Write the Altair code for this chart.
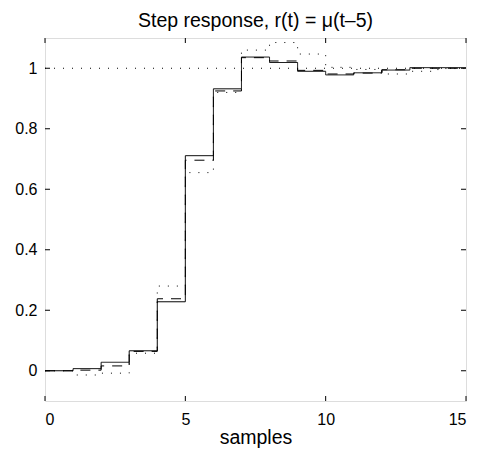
import altair as alt
import pandas as pd

# step values: value at index k holds on [k, k+1]
samples = list(range(16))
solid = [0, 0.007, 0.028, 0.066, 0.228, 0.711, 0.932, 1.037, 1.019, 0.990,
         0.978, 0.985, 0.994, 1.002, 1.002, 1.002]
dashed = [0, 0.002, 0.016, 0.064, 0.238, 0.696, 0.925, 1.035, 1.024, 0.993,
          0.981, 0.984, 0.995, 1.000, 1.000, 1.000]
dotted = [0, -0.014, -0.008, 0.058, 0.280, 0.655, 0.920, 1.060, 1.085, 1.047,
          1.003, 0.996, 0.981, 0.990, 0.999, 0.999]
reference_level = [1.0]
x_ticks = [0, 5, 10, 15]
y_ticks = [0, 0.2, 0.4, 0.6, 0.8, 1]

W, H = 421, 363
FONT = "Liberation Sans"

rows = []
for name, vals in [("dotted", dotted), ("dashed", dashed), ("solid", solid)]:
    for s, v in zip(samples, vals):
        rows.append({"samples": s, "value": v, "series": name})
df = pd.DataFrame(rows)

xs = alt.Scale(domain=[0, 15], nice=False, zero=False)
ys = alt.Scale(domain=[-0.1, 1.1], nice=False, zero=False)

lines = alt.Chart(df).mark_line(interpolate="step-after", color="black", strokeWidth=1).encode(
    x=alt.X("samples:Q", scale=xs,
            axis=alt.Axis(title="samples", values=x_ticks, ticks=False, domain=False, grid=False,
                          labelFontSize=16, labelFont=FONT, labelPadding=10, labelColor="black",
                          titleFontSize=19.5, titleFont=FONT, titleFontWeight="normal",
                          titleColor="black", titlePadding=1)),
    y=alt.Y("value:Q", scale=ys,
            axis=alt.Axis(title="", values=y_ticks, format="~g", ticks=False, domain=False, grid=False,
                          labelFontSize=16, labelFont=FONT, labelPadding=8, labelColor="black")),
    strokeDash=alt.StrokeDash("series:N",
                              scale=alt.Scale(domain=["solid", "dashed", "dotted"],
                                              range=[[1, 0], [10, 8], [1, 8]]),
                              legend=None),
    detail="series:N",
)

ref = alt.Chart(pd.DataFrame({"y": reference_level})).mark_rule(
    color="black", strokeWidth=1, strokeDash=[1, 8]
).encode(y=alt.Y("y:Q", scale=ys), x=alt.value(0), x2=alt.value(W))

xt = pd.DataFrame({"v": x_ticks})
yt = pd.DataFrame({"v": y_ticks})
tick_b = alt.Chart(xt).mark_rule(color="black", strokeWidth=1).encode(
    x=alt.X("v:Q", scale=xs), y=alt.value(H), y2=alt.value(H - 5))
tick_t = alt.Chart(xt).mark_rule(color="black", strokeWidth=1).encode(
    x=alt.X("v:Q", scale=xs), y=alt.value(0), y2=alt.value(5))
tick_l = alt.Chart(yt).mark_rule(color="black", strokeWidth=1).encode(
    y=alt.Y("v:Q", scale=ys), x=alt.value(0), x2=alt.value(5))
tick_r = alt.Chart(yt).mark_rule(color="black", strokeWidth=1).encode(
    y=alt.Y("v:Q", scale=ys), x=alt.value(W), x2=alt.value(W - 5))

chart = alt.layer(ref, lines, tick_b, tick_t, tick_l, tick_r).properties(
    width=W, height=H,
    title=alt.TitleParams("Step response, r(t) = \u03bc(t\u20135)", fontSize=19.5, font=FONT,
                          fontWeight="normal", color="black", offset=6),
    autosize=alt.AutoSizeParams(type="none"),
    padding={"left": 37, "top": 30, "right": 10, "bottom": 47},
).configure_view(stroke="black", strokeWidth=1).configure(background="white")

chart.save("out.html", embed_options={"renderer": "svg", "actions": False})
